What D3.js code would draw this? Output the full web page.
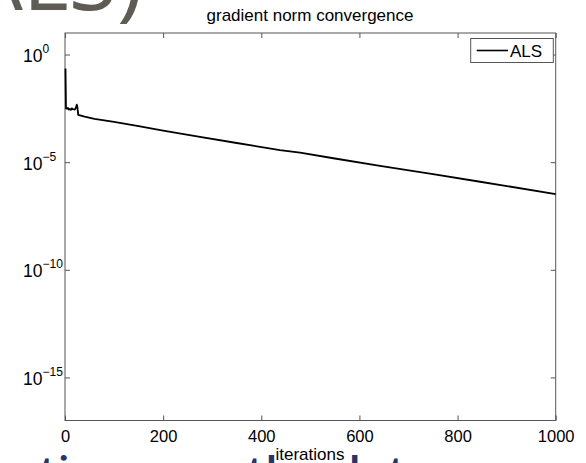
<!DOCTYPE html>
<html><head><meta charset="utf-8">
<script src="https://cdn.jsdelivr.net/npm/d3@7"></script>
<style>body{margin:0;background:#fff;}svg{display:block;}</style>
</head><body>
<svg id="c" width="586" height="463"></svg>
<script>
const iterations = [1, 2, 4, 6, 8, 10, 12, 14, 16, 18, 20, 22, 24, 25, 27, 40, 60, 100, 150, 200, 275, 350, 438, 479, 550, 642, 750, 846, 1000];
const logNorm = [-0.65, -2.5, -2.52, -2.48, -2.56, -2.53, -2.57, -2.5, -2.54, -2.55, -2.56, -2.48, -2.33, -2.4, -2.8, -2.88, -2.99, -3.13, -3.33, -3.53, -3.83, -4.11, -4.44, -4.56, -4.83, -5.17, -5.56, -5.91, -6.48];
const xTicks = [0, 200, 400, 600, 800, 1000];
const yTickExps = [0, -5, -10, -15];
const seriesName = "ALS";
const title = "gradient norm convergence";
const xLabel = "iterations";

const svg = d3.select("#c");
const L = 65, R = 555.7, T = 33, B = 420.5;
const x = d3.scaleLinear().domain([0, 1000]).range([L, R]);
const y = d3.scaleLog().domain([1e-17, 1e1]).range([B, T]);
const font = "'Liberation Sans', Arial, Helvetica, sans-serif";
const axisCol = "#555";

// slide background fragments (cropped slide text around the figure)
svg.append("text").attr("x", 143).attr("y", 10).attr("text-anchor", "end")
  .attr("font-family", "'Open Sans', sans-serif").attr("font-size", 88)
  .attr("fill", "#5f5b55").text("(ALS)");
svg.append("text").attr("x", -72).attr("y", 489)
  .attr("font-family", "'Open Sans', sans-serif").attr("font-size", 46).attr("font-weight", 600)
  .attr("fill", "#2b3466").text("equations are the data");

// title
svg.append("text").attr("x", 310).attr("y", 20.5).attr("text-anchor", "middle")
  .attr("font-family", font).attr("font-size", 17).attr("fill", "#000").text(title);

// plot area
svg.append("rect").attr("x", L).attr("y", T).attr("width", R - L).attr("height", B - T)
  .attr("fill", "#fff").attr("stroke", axisCol).attr("stroke-width", 1);

// axes
const xAxisB = d3.axisBottom(x).tickValues(xTicks).tickSize(-5).tickPadding(10).tickFormat(d3.format("d"));
const gxb = svg.append("g").attr("transform", `translate(0,${B})`).call(xAxisB);
const xAxisT = d3.axisTop(x).tickValues(xTicks).tickSize(-5).tickFormat("");
const gxt = svg.append("g").attr("transform", `translate(0,${T})`).call(xAxisT);
const yVals = yTickExps.map(e => Math.pow(10, e));
const yAxisL = d3.axisLeft(y).tickValues(yVals).tickSize(-5).tickFormat("");
const gyl = svg.append("g").attr("transform", `translate(${L},0)`).call(yAxisL);
const yAxisR = d3.axisRight(y).tickValues(yVals).tickSize(-5).tickFormat("");
const gyr = svg.append("g").attr("transform", `translate(${R},0)`).call(yAxisR);
[gxb, gxt, gyl, gyr].forEach(g => {
  g.select(".domain").remove();
  g.selectAll(".tick line").attr("stroke", axisCol);
  g.selectAll("text").attr("font-family", font).attr("font-size", 16.5).attr("fill", "#000");
});

// y tick labels with superscripts
const yl = svg.append("g");
yTickExps.forEach(e => {
  const yy = y(Math.pow(10, e));
  const t = yl.append("text").attr("x", 23).attr("y", yy + 7.5)
    .attr("font-family", font).attr("font-size", 17.5).attr("fill", "#000");
  t.append("tspan").text("10");
  t.append("tspan").attr("dy", -9).attr("font-size", 12).text(e < 0 ? "\u2212" + (-e) : String(e));
});

// x label
svg.append("text").attr("x", 310).attr("y", 460).attr("text-anchor", "middle")
  .attr("font-family", font).attr("font-size", 17).attr("fill", "#000").text(xLabel);

// line
const data = iterations.map((it, i) => ({it, v: Math.pow(10, logNorm[i])}));
const line = d3.line().x(d => x(d.it)).y(d => y(d.v));
svg.append("path").datum(data).attr("d", line).attr("fill", "none")
  .attr("stroke", "#000").attr("stroke-width", 1.8).attr("stroke-linejoin", "round");

// legend
const lg = svg.append("g");
lg.append("rect").attr("x", 470.7).attr("y", 38.5).attr("width", 82.6).attr("height", 24)
  .attr("fill", "#fff").attr("stroke", axisCol);
lg.append("line").attr("x1", 476.7).attr("x2", 508).attr("y1", 50.5).attr("y2", 50.5)
  .attr("stroke", "#000").attr("stroke-width", 1.6);
lg.append("text").attr("x", 510).attr("y", 57).attr("font-family", font).attr("font-size", 17)
  .attr("fill", "#000").text(seriesName);
</script>
</body></html>
